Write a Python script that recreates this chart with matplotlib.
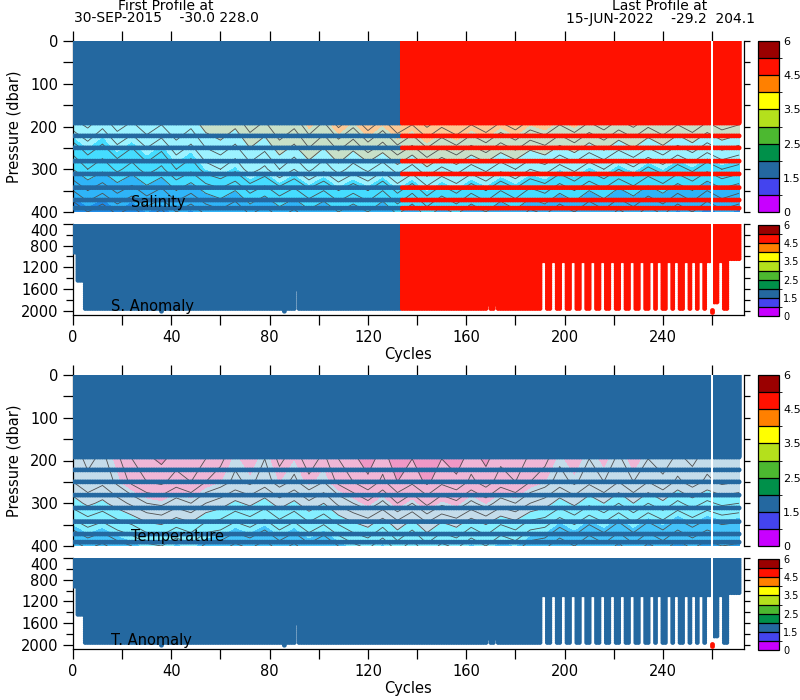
import numpy as np
import matplotlib
matplotlib.use("Agg")
import matplotlib.pyplot as plt
from matplotlib.colors import ListedColormap, BoundaryNorm
from matplotlib.colorbar import ColorbarBase

# ---------------- data ----------------
cycles = list(range(0, 272))

first_profile_date = "30-SEP-2015"
first_profile_lat = -30.0
first_profile_lon = 228.0
last_profile_date = "15-JUN-2022"
last_profile_lat = -29.2
last_profile_lon = 204.1

# sampling levels of the profiles (dbar)
shallow_levels = list(range(0, 193, 2))
mid_levels = [222, 250, 281, 311, 343, 372, 391]
deep_levels = list(range(400, 1961, 40))
default_max_pressure = 1960
cycle0_min_pressure = 115

max_pressure_exceptions = {0: 930, 1: 930, 2: 1460, 3: 1460, 4: 1460,
                           36: 2010, 86: 2010, 91: 1600, 169: 1900, 172: 1900,
                           261: 1850, 262: 1850}
short_cycles = [191, 192, 195, 196, 199, 200, 203, 204, 207, 208, 211, 212,
                215, 216, 219, 220, 223, 224, 227, 228, 231, 232, 235, 236,
                238, 239, 242, 243, 245, 246, 249, 250, 252, 253, 255, 256,
                258, 259, 263, 264]
short_max_pressure = 1110
tail_cycles = [267, 268, 269, 270, 271]
tail_max_pressure = 1060
missing_cycle = 260
missing_cycle_pressures = [1990, 2030]
salinity_bad_from_cycle = 134

# gridded fields between 196 and 400 dbar
field_cycles = [0, 6, 12, 18, 24, 30, 36, 42, 48, 54, 60, 66, 72, 78, 84, 90,
                96, 102, 108, 114, 120, 126, 132, 138, 144, 150, 156, 162, 168,
                174, 180, 186, 192, 198, 204, 210, 216, 222, 228, 234, 240, 246,
                252, 258, 264, 271]
field_pressures = [196, 250, 300, 350, 400]

salinity_field = [
    [34.74, 34.77, 34.73, 34.78, 34.75, 34.79, 34.76, 34.80, 34.77, 34.82,
     34.84, 34.81, 34.86, 34.83, 34.88, 34.85, 34.91, 34.87, 34.93, 34.89,
     34.94, 34.90, 34.95, 34.92, 34.97, 34.93, 34.96, 34.92, 34.95, 34.91,
     34.94, 34.90, 34.92, 34.88, 34.91, 34.87, 34.90, 34.86, 34.89, 34.85,
     34.88, 34.84, 34.87, 34.83, 34.86, 34.84],
    [34.66, 34.70, 34.67, 34.71, 34.68, 34.72, 34.69, 34.74, 34.71, 34.76,
     34.78, 34.75, 34.80, 34.77, 34.82, 34.79, 34.84, 34.80, 34.85, 34.81,
     34.86, 34.82, 34.87, 34.83, 34.88, 34.84, 34.87, 34.83, 34.86, 34.82,
     34.85, 34.81, 34.83, 34.79, 34.82, 34.78, 34.81, 34.77, 34.80, 34.76,
     34.79, 34.75, 34.78, 34.74, 34.77, 34.75],
    [34.60, 34.64, 34.61, 34.65, 34.62, 34.66, 34.63, 34.68, 34.65, 34.70,
     34.72, 34.69, 34.74, 34.71, 34.76, 34.72, 34.77, 34.73, 34.78, 34.74,
     34.77, 34.73, 34.78, 34.74, 34.79, 34.75, 34.78, 34.74, 34.77, 34.73,
     34.76, 34.72, 34.74, 34.70, 34.73, 34.69, 34.72, 34.68, 34.71, 34.67,
     34.70, 34.66, 34.69, 34.65, 34.68, 34.66],
    [34.52, 34.56, 34.53, 34.57, 34.54, 34.58, 34.55, 34.60, 34.57, 34.61,
     34.63, 34.60, 34.65, 34.62, 34.66, 34.63, 34.67, 34.64, 34.68, 34.65,
     34.68, 34.64, 34.69, 34.65, 34.70, 34.66, 34.69, 34.65, 34.68, 34.64,
     34.67, 34.63, 34.65, 34.61, 34.64, 34.60, 34.63, 34.59, 34.62, 34.58,
     34.61, 34.57, 34.60, 34.56, 34.59, 34.57],
    [34.44, 34.48, 34.45, 34.49, 34.46, 34.50, 34.47, 34.52, 34.49, 34.53,
     34.55, 34.52, 34.57, 34.54, 34.58, 34.55, 34.59, 34.56, 34.60, 34.57,
     34.60, 34.56, 34.61, 34.57, 34.62, 34.58, 34.61, 34.57, 34.60, 34.56,
     34.59, 34.55, 34.57, 34.53, 34.56, 34.52, 34.55, 34.51, 34.54, 34.50,
     34.53, 34.49, 34.52, 34.48, 34.51, 34.49],
]

temperature_field = [
    [12.6, 12.9, 12.7, 13.1, 13.6, 13.9, 14.1, 13.8, 14.0, 13.6,
     13.3, 12.9, 13.2, 12.8, 13.3, 13.0, 13.4, 13.1, 13.6, 13.9,
     14.2, 13.8, 14.3, 14.0, 14.4, 14.0, 14.2, 13.8, 14.1, 13.7,
     13.9, 13.5, 13.3, 12.9, 13.2, 12.8, 13.1, 12.7, 13.2, 12.8,
     13.0, 12.7, 12.9, 12.6, 12.8, 12.7],
    [12.4, 12.7, 12.5, 12.9, 13.3, 13.6, 13.7, 13.4, 13.6, 13.2,
     13.0, 12.7, 12.9, 12.6, 13.0, 12.7, 13.1, 12.8, 13.3, 13.6,
     13.9, 13.5, 14.0, 13.7, 14.1, 13.7, 13.9, 13.5, 13.8, 13.4,
     13.6, 13.2, 13.0, 12.6, 12.9, 12.5, 12.8, 12.4, 12.8, 12.4,
     12.7, 12.3, 12.6, 12.3, 12.5, 12.4],
    [11.8, 12.1, 11.9, 12.2, 12.5, 12.8, 12.9, 12.6, 12.8, 12.4,
     12.2, 11.9, 12.1, 11.8, 12.2, 11.9, 12.3, 12.0, 12.5, 12.8,
     13.1, 12.7, 13.2, 12.8, 13.3, 12.9, 13.1, 12.7, 13.0, 12.6,
     12.8, 12.4, 12.2, 11.8, 12.1, 11.7, 12.0, 11.6, 12.0, 11.6,
     11.9, 11.5, 11.8, 11.5, 11.7, 11.6],
    [11.0, 11.3, 11.1, 11.4, 11.6, 11.9, 12.0, 11.7, 11.9, 11.5,
     11.4, 11.1, 11.3, 11.0, 11.4, 11.1, 11.5, 11.2, 11.6, 11.9,
     12.1, 11.7, 12.2, 11.8, 12.3, 11.9, 12.1, 11.7, 12.0, 11.6,
     11.8, 11.4, 11.3, 10.9, 11.2, 10.8, 11.1, 10.7, 11.1, 10.7,
     11.0, 10.6, 10.9, 10.6, 10.8, 10.7],
    [10.2, 10.5, 10.3, 10.6, 10.8, 11.1, 11.2, 10.9, 11.1, 10.7,
     10.6, 10.3, 10.5, 10.2, 10.6, 10.3, 10.7, 10.4, 10.8, 11.1,
     11.3, 10.9, 11.4, 11.0, 11.5, 11.1, 11.3, 10.9, 11.2, 10.8,
     11.0, 10.6, 10.5, 10.1, 10.4, 10.0, 10.3, 9.9, 10.3, 9.9,
     10.2, 9.8, 10.1, 9.8, 10.0, 9.9],
]

sal_fill_levels = [34.5, 34.6, 34.7, 34.8, 34.9, 35.0]
sal_fill_colors = ["#1e8ce8", "#2fb4f8", "#45dcff", "#9cf2ff", "#c8e0c8", "#fcc894", "#ffb070"]
sal_contour_step = 0.04
temp_fill_levels = [10, 11, 12, 13, 14]
temp_fill_colors = ["#2b9ee8", "#45c3fa", "#84efff", "#c4dcea", "#f0b6d6", "#f098c6"]
temp_contour_step = 0.4

cbar_colors = ["#c800ff", "#4444ee", "#2468a0", "#00904a", "#4cb830",
               "#b4e01c", "#ffff00", "#ff8000", "#ff1100", "#9a0000"]
cbar_tick_labels = ["0", "1.5", "2.5", "3.5", "4.5", "6"]

good_color = "#2468a0"
bad_color = "#ff1100"

# ---------------- helpers ----------------
W, H = 800, 700
DOT = 12


def rect(left, top, right, bottom):
    return [left / W, 1 - bottom / H, (right - left) / W, (bottom - top) / H]


def max_pressure(c):
    if c in max_pressure_exceptions:
        return max_pressure_exceptions[c]
    if c in short_cycles:
        return short_max_pressure
    if c in tail_cycles:
        return tail_max_pressure
    return default_max_pressure


def draw_main(ax, field, fill_levels, fill_colors, cstep, bad_from):
    X, Y = np.meshgrid(field_cycles, field_pressures)
    Z = np.array(field)
    ax.contourf(X, Y, Z, levels=fill_levels, colors=fill_colors, extend="both", zorder=1)
    clev = np.arange(np.floor(Z.min() / cstep) * cstep, Z.max() + cstep, cstep)
    ax.contour(X, Y, Z, levels=clev, colors="#4f4f4f", linewidths=0.6, zorder=2)
    xs, ys, cs = [], [], []
    for c in cycles:
        if c == missing_cycle:
            continue
        for p in shallow_levels + mid_levels:
            if c == 0 and p < cycle0_min_pressure:
                continue
            xs.append(c)
            ys.append(p)
            cs.append(bad_color if c >= bad_from else good_color)
    ax.scatter(xs, ys, c=cs, s=DOT, marker="o", linewidths=0, zorder=4)
    ax.axvspan(missing_cycle - 0.45, missing_cycle + 0.45, color="white", lw=0, zorder=5)
    ax.set_xlim(0, 273)
    ax.set_ylim(400, 0)
    for s in ["top", "bottom", "right"]:
        ax.spines[s].set_visible(False)
    ax.spines["left"].set_linewidth(0.9)
    ax.xaxis.set_ticks_position("top")
    ax.set_xticks(range(0, 261, 20))
    ax.tick_params(axis="x", which="both", direction="out", length=7, width=0.9,
                   top=True, bottom=False, labeltop=False, labelbottom=False)
    ax.set_yticks([0, 100, 200, 300, 400])
    ax.set_yticks([50, 150, 250, 350], minor=True)
    ax.tick_params(axis="y", which="both", direction="out", length=7, width=0.9,
                   labelsize=10.5, left=True, right=False)
    sec = ax.secondary_yaxis("right")
    sec.set_yticks(range(0, 401, 50))
    sec.set_yticklabels([])
    sec.tick_params(length=4.5, width=0.9, direction="out")
    sec.spines["right"].set_linewidth(0.9)


def draw_anom(ax, bad_from):
    xs, ys, cs = [], [], []
    for c in cycles:
        if c == missing_cycle:
            continue
        mp = max_pressure(c)
        levs = [p for p in deep_levels if p <= mp]
        if mp > deep_levels[-1]:
            levs.append(mp)
        for p in levs:
            xs.append(c)
            ys.append(p)
            cs.append(bad_color if c >= bad_from else good_color)
    ax.scatter(xs, ys, c=cs, s=DOT, marker="o", linewidths=0, zorder=4)
    ax.axvspan(missing_cycle - 0.45, missing_cycle + 0.45, color="white", lw=0, zorder=5)
    ax.scatter([missing_cycle] * len(missing_cycle_pressures), missing_cycle_pressures,
               c=bad_color, s=DOT, marker="o", linewidths=0, zorder=6)
    ax.set_xlim(0, 273)
    ax.set_ylim(2080, 400)
    for s in ["top", "right"]:
        ax.spines[s].set_visible(False)
    for s in ["left", "bottom"]:
        ax.spines[s].set_linewidth(0.9)
    ax.set_xticks(range(0, 241, 40))
    ax.set_xticks(range(20, 261, 40), minor=True)
    ax.tick_params(axis="x", which="both", direction="out", length=7, width=0.9,
                   labelsize=10.5, pad=4)
    ax.set_yticks([400, 800, 1200, 1600, 2000])
    ax.set_yticks([600, 1000, 1400, 1800], minor=True)
    ax.tick_params(axis="y", which="major", direction="out", length=7, width=0.9,
                   labelsize=10.5, right=False)
    ax.tick_params(axis="y", which="minor", direction="out", length=5, width=0.9, right=False)
    ax.get_yticklabels()[0].set_va("top")
    sec = ax.secondary_yaxis("right")
    sec.set_yticks(range(400, 2001, 200))
    sec.set_yticklabels([])
    sec.tick_params(length=4.5, width=0.9, direction="out")
    sec.spines["right"].set_linewidth(0.9)


def draw_cbar(cax, fsize):
    cmap = ListedColormap(cbar_colors)
    norm = BoundaryNorm(range(len(cbar_colors) + 1), cmap.N)
    cb = ColorbarBase(cax, cmap=cmap, norm=norm, orientation="vertical",
                      drawedges=True, ticks=range(0, len(cbar_colors) + 1, 2))
    cb.set_ticklabels(cbar_tick_labels)
    cb.outline.set_linewidth(0.9)
    cb.dividers.set_linewidth(0.9)
    cax.tick_params(length=0, labelsize=fsize, pad=3)


# ---------------- figure ----------------
fig = plt.figure(figsize=(8, 7), dpi=100)

offsets = [0, 334]
panel_info = [
    (salinity_field, sal_fill_levels, sal_fill_colors, sal_contour_step,
     salinity_bad_from_cycle, "Salinity", "S. Anomaly"),
    (temperature_field, temp_fill_levels, temp_fill_colors, temp_contour_step,
     10**6, "Temperature", "T. Anomaly"),
]

for off, info in zip(offsets, panel_info):
    field, flev, fcol, cstep, bad_from, name, aname = info
    ax_main = fig.add_axes(rect(73, 41 + off, 744, 212 + off))
    draw_main(ax_main, field, flev, fcol, cstep, bad_from)
    ax_an = fig.add_axes(rect(73, 224 + off, 744, 315 + off))
    draw_anom(ax_an, bad_from)
    cax1 = fig.add_axes(rect(758, 41 + off, 779, 212 + off))
    draw_cbar(cax1, 8)
    cax2 = fig.add_axes(rect(758, 225 + off, 779, 316 + off))
    draw_cbar(cax2, 7)
    fig.text(14 / W, 1 - (127 + off) / H, "Pressure (dbar)", rotation=90,
             ha="center", va="center", fontsize=10.5)
    fig.text(408 / W, 1 - (355 + off) / H, "Cycles", ha="center", va="center",
             fontsize=10.5)
    fig.text(131 / W, 1 - (202 + off) / H, name, ha="left", va="center", fontsize=10.5)
    fig.text(111 / W, 1 - (306 + off) / H, aname, ha="left", va="center", fontsize=10.5)

fig.text(166 / W, 1 - 9.5 / H, "First Profile at", ha="center", va="baseline", fontsize=10)
fig.text(166 / W, 1 - 22.5 / H,
         f"{first_profile_date}    {first_profile_lat:.1f} {first_profile_lon:.1f}",
         ha="center", va="baseline", fontsize=10)
fig.text(660 / W, 1 - 9.5 / H, "Last Profile at", ha="center", va="baseline", fontsize=10)
fig.text(660 / W, 1 - 22.5 / H,
         f"{last_profile_date}    {last_profile_lat:.1f}  {last_profile_lon:.1f}",
         ha="center", va="baseline", fontsize=10)

fig.savefig("out.png", dpi=100)
